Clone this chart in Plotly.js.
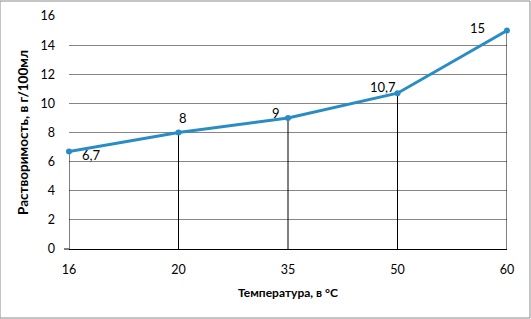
<!DOCTYPE html>
<html><head><meta charset="utf-8">
<script src="https://cdn.plot.ly/plotly-3.0.1.min.js"></script>
<style>html,body{margin:0;padding:0;background:#fff;}#c{width:531px;height:319px;}</style>
</head><body><div id="c"></div>
<script>
const temps = ['16', '20', '35', '50', '60'];
const solubility = [6.7, 8, 9, 10.7, 15];
const labels = ['6,7', '8', '9', '10,7', '15'];
const yTicks = [0, 2, 4, 6, 8, 10, 12, 14, 16];
// label offsets in pixels (style, not data)
const labelDx = [22, 4, -12, -15, -30];
const labelDy = [-4, 15, 5, 6, 3];

const font = 'Lato, "Open Sans", sans-serif';
const trace = {
  x: temps, y: solubility, type: 'scatter', mode: 'lines+markers',
  line: {color: '#2a8cc4', width: 3},
  marker: {color: '#2a8cc4', size: 6},
  error_y: {type: 'data', symmetric: false, array: solubility.map(() => 0), arrayminus: solubility,
            color: '#000', thickness: 1, width: 0},
  cliponaxis: false, hoverinfo: 'none'
};
// category axis: annotation x given as category index
const annotations = temps.map((t, i) => ({
  x: i, y: solubility[i], xref: 'x', yref: 'y', text: labels[i], showarrow: false,
  xshift: labelDx[i], yshift: labelDy[i], font: {family: font, size: 13, color: '#000'}
}));
const layout = {
  width: 531, height: 319,
  margin: {l: 69, r: 24, t: 16, b: 70},
  paper_bgcolor: '#fff', plot_bgcolor: '#fff',
  showlegend: false,
  font: {family: font, size: 12, color: '#000'},
  annotations: annotations,
  xaxis: {type: 'category', range: [0, 4], showgrid: false, zeroline: false,
          showline: true, linecolor: '#000', linewidth: 1, ticks: '',
          tickfont: {family: font, size: 12.5}, ticklabelstandoff: 9,
          title: {text: '<b>Температура, в °С</b>', font: {family: font, size: 12}, standoff: 12}},
  yaxis: {range: [0, 16], tickvals: yTicks, ticktext: yTicks.map(String),
          showgrid: true, gridcolor: '#868686', gridwidth: 1, zeroline: false, showline: false,
          ticks: '', tickfont: {family: font, size: 12.5}, ticklabelstandoff: 13,
          title: {text: '<b>Растворимость, в г/100мл</b>', font: {family: font, size: 13.5}, standoff: 8}},
  shapes: [
    {type: 'rect', xref: 'paper', yref: 'paper', x0: -69/438, x1: 1 + 23/438, y0: -69/233, y1: 1 + 15/233,
     line: {color: '#8a8a8a', width: 1}},
    {type: 'line', xref: 'paper', yref: 'paper', x0: -5/438, x1: 0, y0: 0, y1: 0, line: {color: '#000', width: 1}}
  ]
};
Plotly.newPlot('c', [trace], layout, {displayModeBar: false, staticPlot: true});
</script></body></html>
